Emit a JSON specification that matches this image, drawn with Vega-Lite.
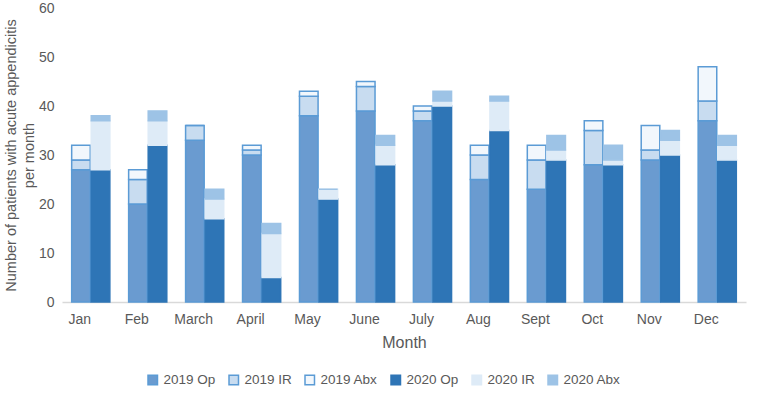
{
  "$schema": "https://vega.github.io/schema/vega-lite/v6.json",
  "autosize": "none",
  "width": 684,
  "height": 294,
  "padding": {"left": 62, "top": 8, "right": 13, "bottom": 98},
  "background": "white",
  "config": {
    "font": "Liberation Sans",
    "view": {"stroke": null},
    "axis": {"labelColor": "#595959", "titleColor": "#595959", "labelFont": "Liberation Sans", "titleFont": "Liberation Sans", "titleFontWeight": "normal"},
    "legend": {"labelColor": "#595959", "labelFont": "Liberation Sans"}
  },
  "data": {"values": [
    {"month":"Jan","year":"2019","k":0,"series":"2019 Op","value":27},
    {"month":"Jan","year":"2019","k":1,"series":"2019 IR","value":2},
    {"month":"Jan","year":"2019","k":2,"series":"2019 Abx","value":3},
    {"month":"Jan","year":"2020","k":0,"series":"2020 Op","value":27},
    {"month":"Jan","year":"2020","k":1,"series":"2020 IR","value":10},
    {"month":"Jan","year":"2020","k":2,"series":"2020 Abx","value":1},
    {"month":"Feb","year":"2019","k":0,"series":"2019 Op","value":20},
    {"month":"Feb","year":"2019","k":1,"series":"2019 IR","value":5},
    {"month":"Feb","year":"2019","k":2,"series":"2019 Abx","value":2},
    {"month":"Feb","year":"2020","k":0,"series":"2020 Op","value":32},
    {"month":"Feb","year":"2020","k":1,"series":"2020 IR","value":5},
    {"month":"Feb","year":"2020","k":2,"series":"2020 Abx","value":2},
    {"month":"March","year":"2019","k":0,"series":"2019 Op","value":33},
    {"month":"March","year":"2019","k":1,"series":"2019 IR","value":3},
    {"month":"March","year":"2019","k":2,"series":"2019 Abx","value":0},
    {"month":"March","year":"2020","k":0,"series":"2020 Op","value":17},
    {"month":"March","year":"2020","k":1,"series":"2020 IR","value":4},
    {"month":"March","year":"2020","k":2,"series":"2020 Abx","value":2},
    {"month":"April","year":"2019","k":0,"series":"2019 Op","value":30},
    {"month":"April","year":"2019","k":1,"series":"2019 IR","value":1},
    {"month":"April","year":"2019","k":2,"series":"2019 Abx","value":1},
    {"month":"April","year":"2020","k":0,"series":"2020 Op","value":5},
    {"month":"April","year":"2020","k":1,"series":"2020 IR","value":9},
    {"month":"April","year":"2020","k":2,"series":"2020 Abx","value":2},
    {"month":"May","year":"2019","k":0,"series":"2019 Op","value":38},
    {"month":"May","year":"2019","k":1,"series":"2019 IR","value":4},
    {"month":"May","year":"2019","k":2,"series":"2019 Abx","value":1},
    {"month":"May","year":"2020","k":0,"series":"2020 Op","value":21},
    {"month":"May","year":"2020","k":1,"series":"2020 IR","value":2},
    {"month":"May","year":"2020","k":2,"series":"2020 Abx","value":0},
    {"month":"June","year":"2019","k":0,"series":"2019 Op","value":39},
    {"month":"June","year":"2019","k":1,"series":"2019 IR","value":5},
    {"month":"June","year":"2019","k":2,"series":"2019 Abx","value":1},
    {"month":"June","year":"2020","k":0,"series":"2020 Op","value":28},
    {"month":"June","year":"2020","k":1,"series":"2020 IR","value":4},
    {"month":"June","year":"2020","k":2,"series":"2020 Abx","value":2},
    {"month":"July","year":"2019","k":0,"series":"2019 Op","value":37},
    {"month":"July","year":"2019","k":1,"series":"2019 IR","value":2},
    {"month":"July","year":"2019","k":2,"series":"2019 Abx","value":1},
    {"month":"July","year":"2020","k":0,"series":"2020 Op","value":40},
    {"month":"July","year":"2020","k":1,"series":"2020 IR","value":1},
    {"month":"July","year":"2020","k":2,"series":"2020 Abx","value":2},
    {"month":"Aug","year":"2019","k":0,"series":"2019 Op","value":25},
    {"month":"Aug","year":"2019","k":1,"series":"2019 IR","value":5},
    {"month":"Aug","year":"2019","k":2,"series":"2019 Abx","value":2},
    {"month":"Aug","year":"2020","k":0,"series":"2020 Op","value":35},
    {"month":"Aug","year":"2020","k":1,"series":"2020 IR","value":6},
    {"month":"Aug","year":"2020","k":2,"series":"2020 Abx","value":1},
    {"month":"Sept","year":"2019","k":0,"series":"2019 Op","value":23},
    {"month":"Sept","year":"2019","k":1,"series":"2019 IR","value":6},
    {"month":"Sept","year":"2019","k":2,"series":"2019 Abx","value":3},
    {"month":"Sept","year":"2020","k":0,"series":"2020 Op","value":29},
    {"month":"Sept","year":"2020","k":1,"series":"2020 IR","value":2},
    {"month":"Sept","year":"2020","k":2,"series":"2020 Abx","value":3},
    {"month":"Oct","year":"2019","k":0,"series":"2019 Op","value":28},
    {"month":"Oct","year":"2019","k":1,"series":"2019 IR","value":7},
    {"month":"Oct","year":"2019","k":2,"series":"2019 Abx","value":2},
    {"month":"Oct","year":"2020","k":0,"series":"2020 Op","value":28},
    {"month":"Oct","year":"2020","k":1,"series":"2020 IR","value":1},
    {"month":"Oct","year":"2020","k":2,"series":"2020 Abx","value":3},
    {"month":"Nov","year":"2019","k":0,"series":"2019 Op","value":29},
    {"month":"Nov","year":"2019","k":1,"series":"2019 IR","value":2},
    {"month":"Nov","year":"2019","k":2,"series":"2019 Abx","value":5},
    {"month":"Nov","year":"2020","k":0,"series":"2020 Op","value":30},
    {"month":"Nov","year":"2020","k":1,"series":"2020 IR","value":3},
    {"month":"Nov","year":"2020","k":2,"series":"2020 Abx","value":2},
    {"month":"Dec","year":"2019","k":0,"series":"2019 Op","value":37},
    {"month":"Dec","year":"2019","k":1,"series":"2019 IR","value":4},
    {"month":"Dec","year":"2019","k":2,"series":"2019 Abx","value":7},
    {"month":"Dec","year":"2020","k":0,"series":"2020 Op","value":29},
    {"month":"Dec","year":"2020","k":1,"series":"2020 IR","value":3},
    {"month":"Dec","year":"2020","k":2,"series":"2020 Abx","value":2}
  ]},
  "mark": {"type": "bar", "strokeWidth": 1.5},
  "encoding": {
    "x": {
      "field": "month", "type": "nominal",
      "sort": ["Jan","Feb","March","April","May","June","July","Aug","Sept","Oct","Nov","Dec"],
      "scale": {"paddingInner": 0.33, "paddingOuter": 0.17},
      "axis": {"labelAngle": 0, "labelFontSize": 14, "labelPadding": 10, "labelOffset": -11, "ticks": false, "domainColor": "#d9d9d9", "domainWidth": 1.5, "title": "Month", "titleFontSize": 16, "titlePadding": 8}
    },
    "xOffset": {"field": "year", "type": "nominal", "scale": {"paddingInner": 0.05}},
    "y": {
      "field": "value", "type": "quantitative", "stack": "zero",
      "scale": {"domain": [0, 60]},
      "axis": {"values": [0,10,20,30,40,50,60], "grid": false, "domain": false, "ticks": false, "labelFontSize": 14, "labelPadding": 8,
               "title": ["Number of patients with acute appendicitis", "per month"], "titleFontSize": 14.5, "titlePadding": 2, "titleLineHeight": 18}
    },
    "color": {
      "field": "series", "type": "nominal",
      "scale": {
        "domain": ["2019 Op","2019 IR","2019 Abx","2020 Op","2020 IR","2020 Abx"],
        "range": ["#6a9bd0","#c8dcf0","#f2f7fc","#2e75b6","#deebf7","#9dc3e6"]
      },
      "legend": {"orient": "none", "legendX": 84, "legendY": 365, "direction": "horizontal", "title": null, "symbolType": "square", "symbolSize": 90, "labelFontSize": 13.5, "columnPadding": 10, "symbolStrokeWidth": 1.5}
    },
    "stroke": {
      "field": "series", "type": "nominal",
      "scale": {
        "domain": ["2019 Op","2019 IR","2019 Abx","2020 Op","2020 IR","2020 Abx"],
        "range": ["#5b9bd5","#5b9bd5","#5b9bd5","#2e75b6","#deebf7","#9dc3e6"]
      }
    },
    "order": {"field": "k", "type": "quantitative"}
  }
}
